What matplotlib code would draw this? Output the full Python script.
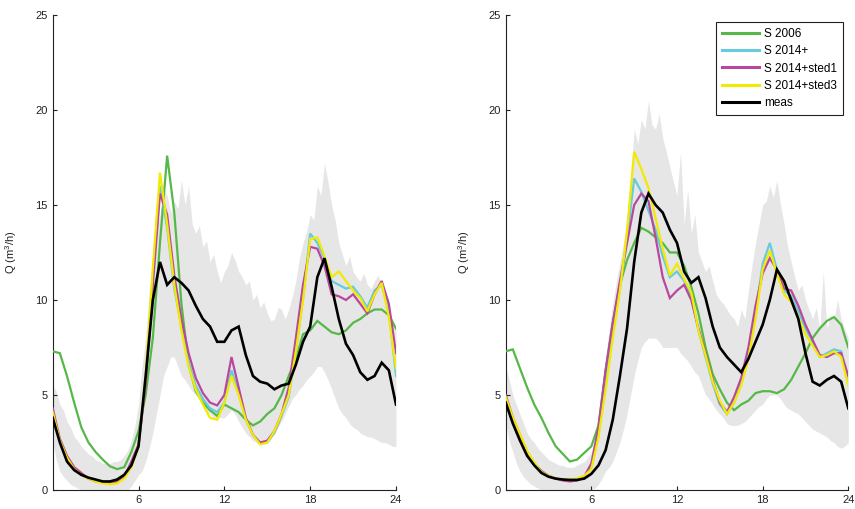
import numpy as np
import matplotlib
matplotlib.use("Agg")
import matplotlib.pyplot as plt

plt.rcParams['font.family'] = ['Liberation Sans', 'DejaVu Sans']
plt.rcParams['mathtext.default'] = 'regular'

# ---------------- data (hours, m3/h) ----------------
hours = np.arange(0, 24.01, 0.5)
hours_band = np.arange(0, 24.01, 0.25)

labels = ["S 2006", "S 2014+", "S 2014+sted1", "S 2014+sted3", "meas"]

# Left panel
green_L = [7.3, 7.2, 6.0, 4.6, 3.3, 2.5, 2.0, 1.6, 1.25, 1.1,
           1.2, 2.0, 3.1, 5.0, 8.0, 13.0, 17.6, 14.6, 9.8, 6.6,
           5.2, 4.6, 4.2, 3.9, 4.5, 4.3, 4.1, 3.7, 3.4, 3.6,
           4.0, 4.3, 5.0, 6.0, 6.9, 8.2, 8.4, 8.9, 8.6, 8.3,
           8.2, 8.4, 8.8, 9.0, 9.3, 9.5, 9.5, 9.2, 8.5]
cyan_L = [4.0, 2.6, 1.7, 1.1, 0.8, 0.6, 0.5, 0.4, 0.35, 0.4,
          0.7, 1.3, 2.3, 5.8, 11.3, 16.0, 13.8, 10.6, 8.6, 6.7,
          5.5, 4.8, 4.3, 4.1, 4.6, 6.3, 5.1, 3.7, 2.9, 2.45,
          2.5, 3.0, 3.9, 4.9, 7.3, 10.1, 13.5, 13.0, 12.2, 11.0,
          10.8, 10.6, 10.7, 10.2, 9.6, 10.5, 10.8, 9.5, 6.0]
magenta_L = [4.3, 2.7, 1.8, 1.2, 0.9, 0.6, 0.45, 0.4, 0.35, 0.45,
             0.7, 1.5, 2.4, 5.6, 10.8, 15.6, 14.5, 11.3, 9.0, 7.2,
             5.9, 5.1, 4.6, 4.45, 5.0, 7.0, 5.4, 3.8, 2.9, 2.5,
             2.6, 3.1, 4.0, 5.4, 8.0, 10.8, 12.8, 12.7, 11.8, 10.3,
             10.2, 10.0, 10.3, 9.8, 9.3, 10.3, 11.0, 9.8, 7.2]
yellow_L = [4.1, 2.6, 1.7, 1.1, 0.8, 0.6, 0.45, 0.35, 0.3, 0.35,
            0.6, 1.2, 2.3, 6.0, 11.7, 16.7, 14.0, 10.8, 8.4, 6.5,
            5.3, 4.5, 3.8, 3.7, 4.6, 6.0, 5.0, 3.7, 2.9, 2.4,
            2.5, 3.1, 4.0, 5.0, 7.3, 10.0, 13.2, 13.3, 12.3, 11.2,
            11.5, 11.0, 10.5, 10.1, 9.4, 10.3, 10.9, 9.1, 6.4]
meas_L = [3.8, 2.5, 1.5, 1.05, 0.8, 0.65, 0.55, 0.45, 0.45, 0.55,
          0.8, 1.3, 2.3, 6.0, 10.0, 12.0, 10.8, 11.2, 10.9, 10.5,
          9.7, 9.0, 8.6, 7.8, 7.8, 8.4, 8.6, 7.1, 6.0, 5.7,
          5.6, 5.3, 5.5, 5.6, 6.6, 7.8, 8.6, 11.2, 12.2, 10.7,
          9.0, 7.7, 7.1, 6.2, 5.8, 6.0, 6.7, 6.3, 4.5]
band_hi_L = [5.5, 5.2, 4.5, 4.2, 3.6, 3.3, 2.8, 2.6, 2.3, 2.1, 1.9, 1.8,
             1.6, 1.5, 1.4, 1.4, 1.4, 1.5, 1.5, 1.6, 1.8, 2.1, 2.6, 3.4,
             4.5, 6.5, 8.0, 10.5, 12.0, 13.8, 14.5, 15.8, 15.5, 14.6, 15.2, 14.8,
             16.3, 15.0, 16.0, 14.0, 13.5, 13.9, 12.8, 13.1, 12.0, 12.4, 11.5, 10.9,
             11.5, 11.8, 12.5, 12.1, 11.5, 11.2, 10.8, 11.0, 10.0, 10.3, 9.6, 9.9,
             9.3, 8.9, 9.0, 9.6, 9.5, 9.0, 9.5, 10.2, 11.0, 12.2, 13.0, 13.6,
             14.5, 14.2, 16.0, 15.5, 17.2, 16.2, 15.0, 14.2, 13.0, 12.4, 11.8, 12.3,
             11.5, 11.2, 11.0, 11.4, 10.8, 10.6, 11.0, 11.3, 10.8, 10.2, 9.5, 9.0,
             8.5]
band_lo_L = [2.5, 1.6, 1.0, 0.7, 0.5, 0.3, 0.2, 0.1, 0.0, 0.0, 0.0, 0.0,
             0.0, 0.0, 0.0, 0.0, 0.0, 0.0, 0.0, 0.0, 0.0, 0.0, 0.2, 0.5,
             0.8, 1.0, 1.5, 2.2, 3.0, 4.0, 5.0, 6.0, 6.5, 7.0, 7.0, 6.5,
             6.0, 5.8, 5.5, 5.2, 5.0, 4.8, 4.5, 4.2, 4.0, 3.8, 3.8, 3.8,
             3.8, 4.0, 4.2, 4.0, 3.6, 3.3, 3.0, 2.8, 2.6, 2.5, 2.4, 2.4,
             2.5, 2.7, 3.0, 3.3, 3.6, 4.0, 4.4, 4.8, 5.0, 5.3, 5.5, 5.8,
             6.0, 6.2, 6.5, 6.5, 6.2, 5.8, 5.3, 4.8, 4.3, 4.0, 3.8, 3.5,
             3.3, 3.2, 3.0, 2.9, 2.8, 2.8, 2.7, 2.6, 2.5, 2.5, 2.4, 2.3,
             2.3]

# Right panel
green_R = [7.3, 7.4, 6.4, 5.4, 4.5, 3.8, 3.0, 2.3, 1.9, 1.5,
           1.6, 1.95, 2.3, 3.4, 6.3, 8.8, 10.8, 12.1, 13.0, 13.8,
           13.6, 13.3, 13.0, 12.5, 12.5, 11.8, 10.7, 9.3, 7.5, 6.1,
           5.3, 4.6, 4.2, 4.5, 4.7, 5.1, 5.2, 5.2, 5.1, 5.3,
           5.8, 6.5, 7.2, 8.0, 8.5, 8.9, 9.1, 8.7, 7.5]
cyan_R = [4.7, 3.6, 2.8, 2.0, 1.4, 1.0, 0.75, 0.6, 0.55, 0.5,
          0.55, 0.7, 1.2, 2.9, 5.7, 8.3, 10.6, 13.2, 16.4, 15.7,
          14.7, 13.7, 12.3, 11.2, 11.5, 11.0, 10.2, 8.4, 7.0, 5.6,
          4.5, 4.0, 4.6, 5.6, 7.1, 9.3, 11.9, 13.0, 11.6, 10.5,
          10.2, 9.4, 8.5, 7.8, 7.0, 7.2, 7.4, 7.3, 5.8]
magenta_R = [5.0, 3.8, 2.9, 2.0, 1.4, 1.0, 0.75, 0.6, 0.5, 0.45,
             0.5, 0.7, 1.4, 3.3, 6.3, 8.8, 11.0, 13.0, 15.0, 15.6,
             15.2, 13.3, 11.2, 10.1, 10.5, 10.8, 10.0, 8.5, 7.2, 5.8,
             4.6, 4.1, 4.9, 5.9, 7.5, 9.7, 11.4, 12.2, 11.6, 10.6,
             10.5, 9.7, 8.7, 7.9, 7.1, 7.0, 7.2, 7.2, 6.0]
yellow_R = [4.9, 3.8, 2.95, 2.05, 1.45, 0.95, 0.75, 0.6, 0.55, 0.55,
            0.6, 0.75, 1.1, 2.8, 5.3, 8.0, 10.5, 13.6, 17.8, 16.9,
            15.9, 14.3, 12.7, 11.3, 11.9, 11.1, 10.4, 8.4, 7.1, 5.7,
            4.7, 4.0, 4.6, 5.5, 6.9, 9.0, 11.6, 12.6, 11.4, 10.3,
            9.9, 9.1, 8.2, 7.6, 7.0, 7.1, 7.3, 7.0, 5.5]
meas_R = [4.6, 3.5, 2.6, 1.8, 1.3, 0.9, 0.7, 0.6, 0.55, 0.53,
          0.53, 0.6, 0.85, 1.3, 2.1, 3.7, 6.0, 8.5, 12.0, 14.6,
          15.6, 15.0, 14.6, 13.7, 13.0, 11.5, 10.9, 11.2, 10.1, 8.6,
          7.5, 7.0, 6.6, 6.2, 6.9, 7.8, 8.7, 10.0, 11.6, 11.0,
          10.0, 9.0, 7.2, 5.7, 5.5, 5.8, 6.0, 5.7, 4.3]
band_hi_R = [6.5, 5.8, 5.0, 4.5, 4.0, 3.5, 3.0, 2.7, 2.5, 2.2, 2.0, 1.8,
             1.6, 1.5, 1.4, 1.3, 1.3, 1.2, 1.2, 1.2, 1.3, 1.4, 1.5, 1.7,
             2.0, 2.6, 4.0, 5.5, 7.0, 8.5, 9.8, 11.0, 12.0, 13.0, 14.5, 16.5,
             19.0, 18.2, 19.5, 19.0, 20.5, 19.2, 19.0, 19.8, 18.5, 17.8, 17.0, 16.2,
             15.5, 17.8, 14.0, 15.8, 13.5, 14.5, 12.5, 12.0, 11.5, 11.8, 11.0, 10.3,
             10.0, 9.8, 9.5, 9.2, 9.0, 8.6, 9.5, 9.0, 10.5, 11.8, 13.0, 14.0,
             15.0, 15.2, 16.0, 15.4, 16.3, 15.0, 14.0, 12.8, 12.0, 11.2, 10.5, 10.8,
             10.0, 9.5, 9.0, 9.6, 8.5, 11.5, 8.5, 9.2, 9.0, 10.0, 9.0, 8.5,
             8.0]
band_lo_R = [3.5, 2.6, 2.0, 1.4, 1.0, 0.7, 0.5, 0.3, 0.2, 0.1, 0.0, 0.0,
             0.0, 0.0, 0.0, 0.0, 0.0, 0.0, 0.0, 0.0, 0.0, 0.0, 0.0, 0.0,
             0.0, 0.1, 0.3, 0.6, 1.0, 1.2, 1.5, 2.0, 2.5, 3.2, 4.0, 5.0,
             6.0, 6.8, 7.5, 7.8, 8.0, 8.0, 8.0, 7.8, 7.5, 7.5, 7.5, 7.5,
             7.5, 7.2, 7.0, 6.8, 6.5, 6.2, 6.0, 5.5, 5.0, 4.8, 4.5, 4.2,
             4.0, 3.8, 3.5, 3.4, 3.4, 3.4, 3.5, 3.6, 3.8, 4.0, 4.2, 4.4,
             4.5, 4.8, 5.0, 5.0, 5.0, 4.8, 4.5, 4.3, 4.2, 4.1, 4.0, 3.8,
             3.6, 3.4, 3.2, 3.1, 3.0, 2.9, 2.8, 2.6, 2.5, 2.3, 2.2, 2.3,
             2.5]

x_ticks = [6, 12, 18, 24]
y_ticks = [0, 5, 10, 15, 20, 25]

colors = ["#55b847", "#66ccdd", "#b8489e", "#f2ea00", "#000000"]
widths = [1.6, 1.6, 1.6, 1.6, 1.9]

# ---------------- figure ----------------
fig = plt.figure(figsize=(8.55, 5.09), dpi=100)
ax_L = fig.add_axes([52.7 / 855, 19 / 509, 343.3 / 855, 475 / 509])
ax_R = fig.add_axes([505.7 / 855, 19 / 509, 342.6 / 855, 475 / 509])

panels = [
    (ax_L, band_lo_L, band_hi_L, [green_L, cyan_L, magenta_L, yellow_L, meas_L]),
    (ax_R, band_lo_R, band_hi_R, [green_R, cyan_R, magenta_R, yellow_R, meas_R]),
]

for ax, lo, hi, series in panels:
    ax.fill_between(hours_band, lo, hi, color="#e6e6e6", lw=0, zorder=1)
    for s, c, w, lab in zip(series, colors, widths, labels):
        ax.plot(hours, s, color=c, lw=w, label=lab, zorder=3,
                solid_joinstyle="miter")
    ax.set_xlim(0, 24)
    ax.set_ylim(0, 25)
    ax.set_xticks(x_ticks)
    ax.set_yticks(y_ticks)
    for sp in ["top", "right"]:
        ax.spines[sp].set_visible(False)
    for sp in ["left", "bottom"]:
        ax.spines[sp].set_color("#222222")
        ax.spines[sp].set_linewidth(0.8)
    ax.tick_params(direction="in", length=3, width=0.8, color="#222222",
                   labelsize=8, labelcolor="#222222", pad=3.5)
    ax.set_ylabel("Q (m$^{3}$/h)", fontsize=8, color="#222222")
    ax.yaxis.set_label_coords(-0.097, 0.5)

leg = ax_R.legend(loc="upper right", bbox_to_anchor=(843 / 855, 1 - 22 / 509),
                  bbox_transform=fig.transFigure, borderaxespad=0,
                  fontsize=8.5, frameon=True, fancybox=False, framealpha=1,
                  edgecolor="#222222", handlelength=3.2, handletextpad=0.4,
                  labelspacing=0.45, borderpad=0.5)
leg.get_frame().set_linewidth(0.8)
for line in leg.get_lines():
    line.set_linewidth(2.2)

fig.savefig("out.png", dpi=100)
